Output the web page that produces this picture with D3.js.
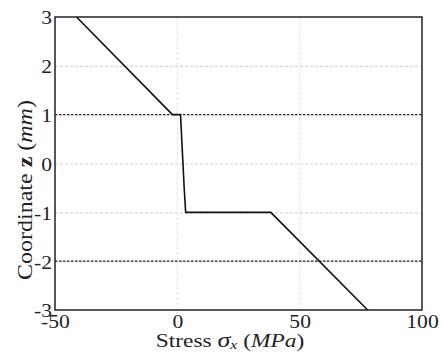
<!DOCTYPE html>
<html><head><meta charset="utf-8">
<script src="https://cdn.jsdelivr.net/npm/d3@7"></script>
<style>body{margin:0;background:#fff}svg{display:block}</style>
</head><body>
<svg id="c" width="443" height="353"></svg>
<script>
const stress = [-41.2, -2.0, 1.3, 1.8, 2.3, 2.8, 3.4, 38.2, 77.8];
const coord  = [3, 1, 1, 0.5, 0, -0.5, -1, -1, -3];
const xTicks = [-50, 0, 50, 100];
const yTicks = [3, 2, 1, 0, -1, -2, -3];
const grayGridY = [2, 0, -1, -2];
const grayGridX = [0, 50];
const dashedY = [1, -2];

const svg = d3.select("#c");
const L = 55, R = 422, T = 17, B = 310;
const x = d3.scaleLinear().domain([-50, 100]).range([L, R]);
const y = d3.scaleLinear().domain([-3, 3]).range([B, T]);
const serif = "'Liberation Serif','Times New Roman',serif";

// gray grid
svg.append("g").selectAll("line").data(grayGridY).join("line")
  .attr("x1", L).attr("x2", R).attr("y1", d => y(d) + 0.5).attr("y2", d => y(d) + 0.5)
  .attr("stroke", "#d8d8d8").attr("stroke-width", 1.2).attr("stroke-dasharray", "3,2");
svg.append("g").selectAll("line").data(grayGridX).join("line")
  .attr("y1", T).attr("y2", B).attr("x1", d => x(d)).attr("x2", d => x(d))
  .attr("stroke", "#e4e4e4").attr("stroke-width", 1).attr("stroke-dasharray", "3,2");

// black dashed reference lines
svg.append("g").selectAll("line").data(dashedY).join("line")
  .attr("x1", L).attr("x2", R).attr("y1", d => y(d)).attr("y2", d => y(d))
  .attr("stroke", "#222").attr("stroke-width", 1.2).attr("stroke-dasharray", "2.5,1.5");

// data line
const pts = stress.map((s, i) => [s, coord[i]]);
svg.append("path").datum(pts)
  .attr("d", d3.line().x(d => x(d[0])).y(d => y(d[1])))
  .attr("fill", "none").attr("stroke", "#111").attr("stroke-width", 1.6);

// frame
svg.append("rect").attr("x", L).attr("y", T).attr("width", R - L).attr("height", B - T)
  .attr("fill", "none").attr("stroke", "#222").attr("stroke-width", 1.5);

// axes (labels only)
const yAxis = d3.axisLeft(y).tickValues(yTicks).tickSize(0).tickPadding(3).tickFormat(d => String(d));
const gy = svg.append("g").attr("transform", `translate(${L},0)`).call(yAxis);
gy.select(".domain").remove();
gy.selectAll("text").attr("font-family", serif).attr("font-size", 18).attr("fill", "#222")
  .attr("dy", "0.38em").attr("transform", "scale(1.2,1)").attr("x", -3 / 1.2);

const xAxis = d3.axisBottom(x).tickValues(xTicks).tickSize(0).tickPadding(5).tickFormat(d => String(d));
const gx = svg.append("g").attr("transform", `translate(0,${B})`).call(xAxis);
gx.select(".domain").remove();
gx.selectAll("text").attr("font-family", serif).attr("font-size", 18).attr("fill", "#222")
  .attr("transform", "scale(1.2,1)");

// x label
const xl = svg.append("text").attr("transform", "translate(230,347) scale(1.3,1)")
  .attr("text-anchor", "middle")
  .attr("font-family", serif).attr("font-size", 18).attr("fill", "#222");
xl.append("tspan").text("Stress ");
xl.append("tspan").attr("font-style", "italic").attr("font-size", 20).text("σ");
xl.append("tspan").attr("font-style", "italic").attr("font-size", 12).attr("dy", 2).text("x");
xl.append("tspan").attr("dy", -2).text(" (");
xl.append("tspan").attr("font-style", "italic").text("MPa");
xl.append("tspan").text(")");

// y label
const yl = svg.append("text").attr("transform", "translate(32,190) rotate(-90) scale(1.2,1)")
  .attr("text-anchor", "middle").attr("font-family", serif).attr("font-size", 20).attr("fill", "#222");
yl.append("tspan").text("Coordinate ");
yl.append("tspan").attr("font-weight", "bold").text("z");
yl.append("tspan").text(" (");
yl.append("tspan").attr("font-style", "italic").text("mm");
yl.append("tspan").text(")");
</script>
</body></html>
